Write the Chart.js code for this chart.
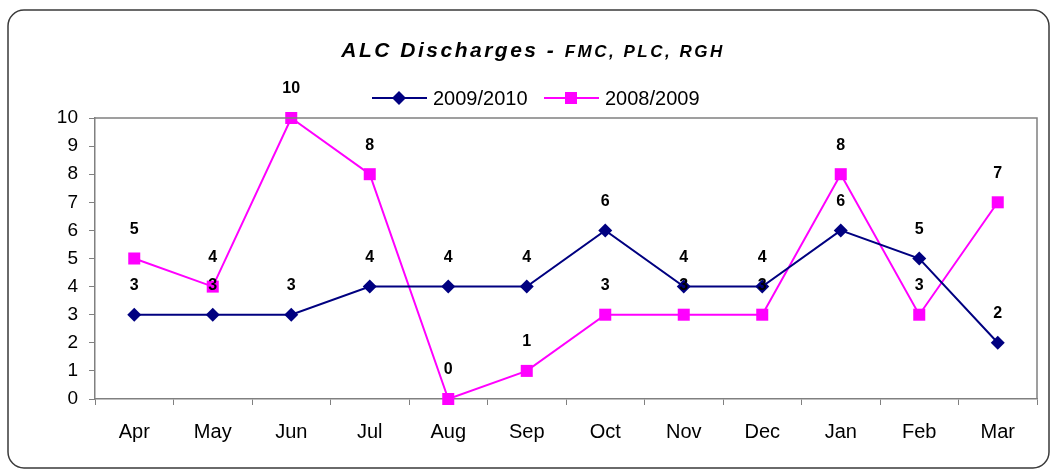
<!DOCTYPE html>
<html>
<head>
<meta charset="utf-8">
<script src="https://cdn.jsdelivr.net/npm/chart.js@4"></script>
<style>
  html, body { margin: 0; padding: 0; background: #fff; }
  #wrap { width: 1057px; height: 471px; }
</style>
</head>
<body>
<div id="wrap"><canvas id="alcChart" width="1057" height="471"></canvas></div>
<script>
const months = ["Apr", "May", "Jun", "Jul", "Aug", "Sep", "Oct", "Nov", "Dec", "Jan", "Feb", "Mar"];
const season0910 = [3, 3, 3, 4, 4, 4, 6, 4, 4, 6, 5, 2];
const season0809 = [5, 4, 10, 8, 0, 1, 3, 3, 3, 8, 3, 7];
const yTicks = [0, 1, 2, 3, 4, 5, 6, 7, 8, 9, 10];

const FONT = "'Liberation Sans', Arial, sans-serif";

// frame, title, legend, plot border, value labels
const decor = {
  id: "decor",
  beforeDraw(chart) {
    const ctx = chart.ctx;
    ctx.save();
    ctx.strokeStyle = "#3a3a3a";
    ctx.lineWidth = 1.5;
    ctx.beginPath();
    ctx.roundRect(8, 10, 1041, 458, 16);
    ctx.stroke();
    ctx.restore();
  },
  afterDatasetsDraw(chart) {
    const ctx = chart.ctx;
    const area = chart.chartArea;
    ctx.save();

    // plot area top + right border
    ctx.strokeStyle = "#808080";
    ctx.lineWidth = 1.5;
    ctx.beginPath();
    ctx.moveTo(area.left, area.top);
    ctx.lineTo(area.right, area.top);
    ctx.lineTo(area.right, area.bottom);
    ctx.stroke();

    // title
    ctx.fillStyle = "#000";
    ctx.textBaseline = "alphabetic";
    ctx.textAlign = "left";
    const big = "italic bold 21px " + FONT;
    const small = "italic bold 17px " + FONT;
    const t1 = "ALC Discharges - ", t2 = "FMC, PLC, RGH";
    ctx.letterSpacing = "2.5px";
    ctx.font = big;
    const w1 = ctx.measureText(t1).width;
    ctx.letterSpacing = "2.5px";
    ctx.font = small;
    const w2 = ctx.measureText(t2).width;
    let x = 533 - (w1 + w2) / 2;
    ctx.font = big;
    ctx.fillText(t1, x, 57);
    ctx.font = small;
    ctx.fillText(t2, x + w1, 57);
    ctx.letterSpacing = "0px";

    // legend
    const items = [
      { x: 372, label: "2009/2010", color: "#000080", style: "diamond" },
      { x: 544, label: "2008/2009", color: "#ff00ff", style: "square" }
    ];
    const ly = 98;
    items.forEach(it => {
      ctx.strokeStyle = it.color;
      ctx.lineWidth = 2;
      ctx.beginPath();
      ctx.moveTo(it.x, ly);
      ctx.lineTo(it.x + 55, ly);
      ctx.stroke();
      ctx.fillStyle = it.color;
      const cx = it.x + 27;
      if (it.style === "diamond") {
        ctx.beginPath();
        ctx.moveTo(cx, ly - 7);
        ctx.lineTo(cx + 7, ly);
        ctx.lineTo(cx, ly + 7);
        ctx.lineTo(cx - 7, ly);
        ctx.closePath();
        ctx.fill();
      } else {
        ctx.fillRect(cx - 6, ly - 6, 12, 12);
      }
      ctx.fillStyle = "#000";
      ctx.font = "20px " + FONT;
      ctx.textBaseline = "middle";
      ctx.fillText(it.label, it.x + 61, ly + 1);
    });

    // value labels above points
    ctx.font = "bold 16px " + FONT;
    ctx.textAlign = "center";
    ctx.textBaseline = "middle";
    ctx.fillStyle = "#000";
    chart.data.datasets.forEach((ds, i) => {
      chart.getDatasetMeta(i).data.forEach((pt, j) => {
        ctx.fillText(String(ds.data[j]), pt.x, pt.y - 29);
      });
    });
    ctx.restore();
  }
};

new Chart(document.getElementById("alcChart"), {
  type: "line",
  data: {
    labels: months,
    datasets: [
      {
        label: "2009/2010",
        data: season0910,
        borderColor: "#000080",
        backgroundColor: "#000080",
        borderWidth: 2,
        pointStyle: "rectRot",
        pointRadius: 7,
        pointBorderWidth: 0,
        tension: 0,
        clip: false
      },
      {
        label: "2008/2009",
        data: season0809,
        borderColor: "#ff00ff",
        backgroundColor: "#ff00ff",
        borderWidth: 2,
        pointStyle: "rect",
        pointRadius: 8.5,
        pointBorderWidth: 0,
        tension: 0,
        clip: false
      }
    ]
  },
  options: {
    responsive: false,
    animation: false,
    layout: { padding: { top: 118, right: 20, bottom: 22, left: 0 } },
    plugins: {
      legend: { display: false },
      title: { display: false },
      tooltip: { enabled: false }
    },
    scales: {
      x: {
        offset: true,
        grid: {
          offset: true,
          drawOnChartArea: false,
          drawTicks: true,
          tickLength: 6,
          color: "#808080"
        },
        border: { color: "#808080", width: 1.5 },
        ticks: {
          color: "#000",
          font: { family: FONT, size: 20 },
          padding: 15,
          maxRotation: 0
        },
        afterFit(scale) { scale.height = 50; }
      },
      y: {
        min: 0,
        max: 10,
        afterBuildTicks(scale) { scale.ticks = yTicks.map(v => ({ value: v })); },
        grid: {
          drawOnChartArea: false,
          drawTicks: true,
          tickLength: 6,
          color: "#808080"
        },
        border: { color: "#808080", width: 1.5 },
        ticks: {
          color: "#000",
          font: { family: FONT, size: 19 },
          padding: 11
        },
        afterFit(scale) { scale.width = 95; }
      }
    }
  },
  plugins: [decor]
});
</script>
</body>
</html>
